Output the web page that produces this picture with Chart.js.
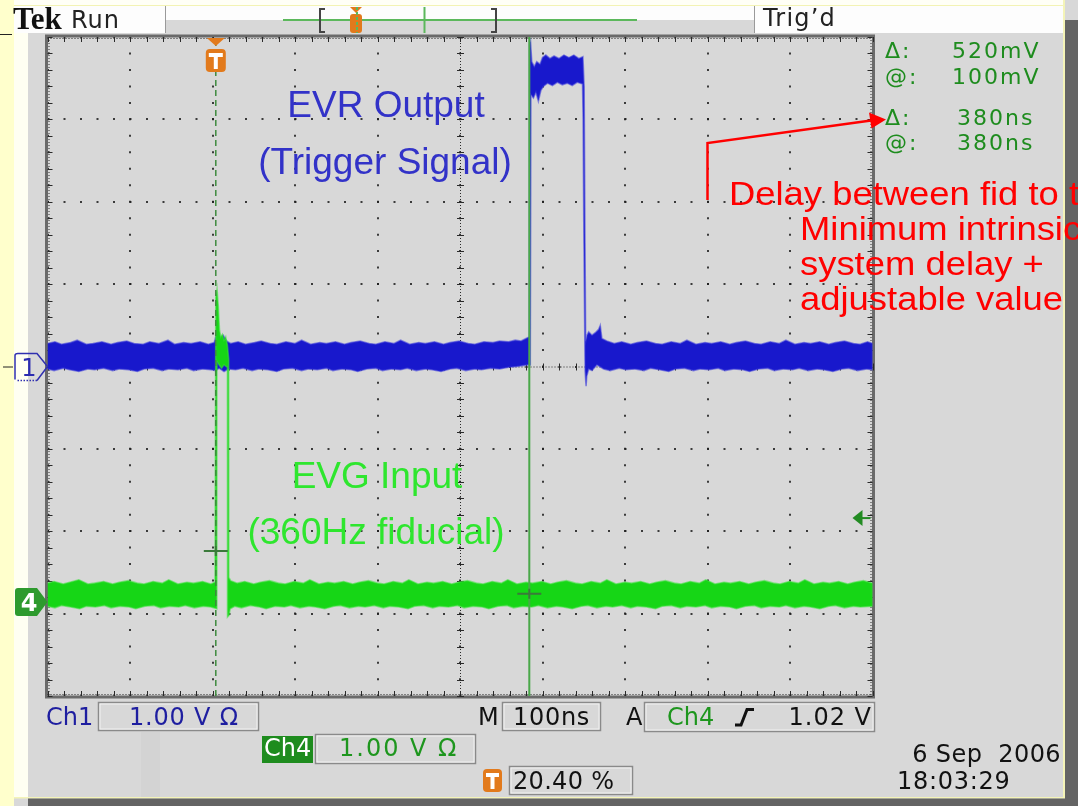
<!DOCTYPE html>
<html>
<head>
<meta charset="utf-8">
<title>EVR Output vs EVG Input</title>
<script src="https://cdn.jsdelivr.net/npm/chart.js@4.4.1/dist/chart.umd.min.js"></script>
<style>
  html, body { margin: 0; padding: 0; background: #d8d8d8; }
  canvas { display: block; }
</style>
</head>
<body>
<canvas id="scope" width="1078" height="806"></canvas>
<script>
// ===== DATA =====
// time divisions in ns (100 ns/div, trigger at 20.40 % of the record)
const xDivs = [-204, -104, -4, 96, 196, 296, 396, 496, 596, 696, 796];
// vertical divisions (1.00 V/div)
const yDivs = [-4, -3, -2, -1, 0, 1, 2, 3, 4];

// Ch1 (EVR output) noise envelope, [ns, V]
const ch1Upper = [
  [-204,0.28],[-195,0.30],[-187,0.27],[-176,0.29],[-168,0.32],[-157,0.27],[-149,0.28],[-138,0.30],
  [-127,0.27],[-119,0.29],[-108,0.31],[-99,0.28],[-88,0.27],[-80,0.30],[-69,0.28],[-58,0.32],
  [-50,0.27],[-39,0.29],[-30,0.28],[-19,0.30],[-9,0.27],[-2,0.29],[0,0.36],[2,0.42],[5,0.34],
  [9,0.38],[13,0.31],[18,0.28],[27,0.30],[36,0.27],[47,0.29],[55,0.31],[66,0.28],[74,0.27],
  [85,0.30],[96,0.28],[104,0.32],[115,0.27],[126,0.29],[134,0.28],[145,0.30],[156,0.27],
  [164,0.29],[175,0.31],[186,0.28],[194,0.27],[205,0.30],[216,0.28],[224,0.32],[235,0.27],
  [246,0.29],[254,0.28],[265,0.30],[276,0.27],[284,0.29],[295,0.31],[306,0.28],[314,0.27],
  [325,0.30],[336,0.29],[344,0.31],[355,0.30],[363,0.32],[370,0.31],[376,0.34],[380,0.36],
  [380.4,3.92],[381.5,3.95],[383,3.70],[386,3.64],[389,3.70],[393,3.67],[396,3.75],[400,3.78],
  [405,3.74],[410,3.77],[416,3.74],[422,3.78],[428,3.75],[434,3.78],[440,3.74],[445,3.76],
  [446.5,3.4],[447.5,1.6],[448.3,0.3],[450,0.38],[452,0.42],[456,0.38],[460,0.41],[464,0.45],
  [466,0.50],[468,0.34],[474,0.31],[483,0.28],[492,0.30],[503,0.27],[511,0.29],[522,0.31],
  [533,0.28],[541,0.27],[552,0.30],[563,0.28],[571,0.32],[582,0.27],[593,0.29],[601,0.28],
  [612,0.30],[623,0.27],[631,0.29],[642,0.31],[653,0.28],[661,0.27],[672,0.30],[683,0.28],
  [691,0.32],[702,0.27],[713,0.29],[721,0.28],[732,0.30],[743,0.27],[751,0.29],[762,0.31],
  [773,0.28],[781,0.27],[790,0.30],[796,0.28]
];
const ch1Lower = [
  [-204,-0.03],[-196,-0.05],[-185,-0.02],[-177,-0.04],[-166,-0.06],[-155,-0.03],[-147,-0.04],
  [-136,-0.02],[-125,-0.05],[-117,-0.03],[-106,-0.04],[-95,-0.06],[-87,-0.03],[-76,-0.02],
  [-65,-0.05],[-57,-0.03],[-46,-0.04],[-35,-0.02],[-27,-0.05],[-16,-0.03],[-6,-0.04],[0,-0.05],
  [4,-0.02],[10,-0.06],[15,-0.03],[24,-0.04],[33,-0.02],[44,-0.05],[52,-0.03],[63,-0.04],
  [74,-0.06],[82,-0.03],[93,-0.02],[104,-0.05],[112,-0.03],[123,-0.04],[134,-0.02],[142,-0.05],
  [153,-0.03],[164,-0.04],[172,-0.06],[183,-0.03],[194,-0.02],[202,-0.05],[213,-0.03],
  [224,-0.04],[232,-0.02],[243,-0.05],[254,-0.03],[262,-0.04],[273,-0.06],[284,-0.03],
  [292,-0.02],[303,-0.05],[314,-0.03],[322,-0.04],[333,-0.02],[344,-0.03],[355,-0.01],
  [365,0.0],[378,0.02],[381.2,0.02],[382,3.30],[385,3.26],[388,3.33],[391,3.22],[394,3.35],
  [397,3.40],[402,3.44],[408,3.41],[414,3.45],[420,3.42],[426,3.44],[432,3.41],[438,3.45],
  [444.5,3.43],[445.2,3.0],[446.2,1.5],[447.6,-0.05],[448.8,-0.24],[449.6,-0.12],[452,-0.03],
  [456,-0.05],[462,0.02],[470,-0.03],[478,-0.05],[489,-0.02],[497,-0.04],[508,-0.03],
  [519,-0.05],[527,-0.02],[538,-0.04],[549,-0.06],[557,-0.03],[568,-0.02],[579,-0.05],
  [587,-0.03],[598,-0.04],[609,-0.02],[617,-0.05],[628,-0.03],[639,-0.04],[647,-0.06],
  [658,-0.03],[669,-0.02],[677,-0.05],[688,-0.03],[699,-0.04],[707,-0.02],[718,-0.05],
  [729,-0.03],[737,-0.04],[748,-0.06],[759,-0.03],[767,-0.02],[778,-0.05],[789,-0.03],[796,-0.04]
];

// Ch4 (EVG input, 360 Hz fiducial) envelope, [ns, V] relative to its own ground
const ch4Upper = [
  [-204,0.23],[-196,0.25],[-185,0.22],[-177,0.24],[-166,0.27],[-155,0.22],[-147,0.23],
  [-136,0.25],[-125,0.22],[-117,0.24],[-106,0.26],[-95,0.23],[-87,0.22],[-76,0.25],[-65,0.23],
  [-57,0.27],[-46,0.22],[-35,0.24],[-27,0.23],[-16,0.25],[-6,0.22],[-1,0.24],[0,3.70],
  [1.5,3.80],[3,3.60],[4.5,3.30],[6,3.22],[8,3.25],[10,3.18],[12,3.22],[14,3.12],[15.6,2.95],
  [15.8,0.3],[18,0.26],[26,0.23],[35,0.25],[46,0.22],[54,0.24],[65,0.26],[76,0.23],[84,0.22],
  [95,0.25],[106,0.23],[114,0.27],[125,0.22],[136,0.24],[144,0.23],[155,0.25],[166,0.22],
  [174,0.24],[185,0.26],[196,0.23],[204,0.22],[215,0.25],[226,0.23],[234,0.27],[245,0.22],
  [256,0.24],[264,0.23],[275,0.25],[286,0.22],[294,0.24],[305,0.26],[316,0.23],[324,0.22],
  [335,0.25],[346,0.23],[354,0.27],[365,0.22],[376,0.24],[384,0.23],[395,0.25],[406,0.22],
  [414,0.24],[425,0.26],[436,0.23],[444,0.22],[455,0.25],[466,0.23],[474,0.27],[485,0.22],
  [496,0.24],[504,0.23],[515,0.25],[526,0.22],[534,0.24],[545,0.26],[556,0.23],[564,0.22],
  [575,0.25],[586,0.23],[594,0.27],[605,0.22],[616,0.24],[624,0.23],[635,0.25],[646,0.22],
  [654,0.24],[665,0.26],[676,0.23],[684,0.22],[695,0.25],[706,0.23],[714,0.27],[725,0.22],
  [736,0.24],[744,0.23],[755,0.25],[766,0.22],[774,0.24],[785,0.26],[796,0.23]
];
const ch4Lower = [
  [-204,-0.05],[-195,-0.07],[-187,-0.04],[-176,-0.06],[-165,-0.08],[-157,-0.05],[-146,-0.06],
  [-135,-0.04],[-127,-0.07],[-116,-0.05],[-105,-0.06],[-97,-0.08],[-86,-0.05],[-75,-0.04],
  [-67,-0.07],[-56,-0.05],[-45,-0.06],[-37,-0.04],[-26,-0.07],[-15,-0.05],[-6,-0.06],[1.3,-0.08],
  [1.4,2.92],[4,2.88],[7,2.84],[10,2.88],[14.1,2.85],[14.2,-0.18],[16,-0.16],[17.5,-0.08],
  [23,-0.05],[31,-0.07],[42,-0.04],[53,-0.06],[61,-0.08],[72,-0.05],[83,-0.06],[91,-0.04],
  [102,-0.07],[113,-0.05],[121,-0.06],[132,-0.08],[143,-0.05],[151,-0.04],[162,-0.07],
  [173,-0.05],[181,-0.06],[192,-0.04],[203,-0.07],[211,-0.05],[222,-0.06],[233,-0.08],
  [241,-0.05],[252,-0.04],[263,-0.07],[271,-0.05],[282,-0.06],[293,-0.04],[301,-0.07],
  [312,-0.05],[323,-0.06],[331,-0.08],[342,-0.05],[353,-0.04],[361,-0.07],[372,-0.05],
  [383,-0.06],[391,-0.04],[402,-0.07],[413,-0.05],[421,-0.06],[432,-0.08],[443,-0.05],
  [451,-0.04],[462,-0.07],[473,-0.05],[481,-0.06],[492,-0.04],[503,-0.07],[511,-0.05],
  [522,-0.06],[533,-0.08],[541,-0.05],[552,-0.04],[563,-0.07],[571,-0.05],[582,-0.06],
  [593,-0.04],[601,-0.07],[612,-0.05],[623,-0.06],[631,-0.08],[642,-0.05],[653,-0.04],
  [661,-0.07],[672,-0.05],[683,-0.06],[691,-0.04],[702,-0.07],[713,-0.05],[721,-0.06],
  [732,-0.08],[743,-0.05],[751,-0.04],[762,-0.07],[773,-0.05],[781,-0.06],[796,-0.05]
];

const ch4Offset = -2.86;           // Ch4 ground position (div)
const cursorTimes = [0, 380];      // ns
const cursorLevels = [0.62, 0.10]; // V on Ch4
const triggerLevel = 1.02;         // V on Ch4

// ===== HELPERS =====
function bandShape(upper, lower, offset) {
  return upper.concat(lower.slice().reverse()).map(p => ({ x: p[0], y: p[1] + offset }));
}

function label(ctx, str, x, y, font, color, align, spacing, sx) {
  ctx.save();
  ctx.font = font;
  ctx.fillStyle = color;
  ctx.textAlign = align || 'left';
  ctx.textBaseline = 'alphabetic';
  ctx.letterSpacing = spacing || '0px';
  ctx.translate(x, y);
  if (sx) ctx.scale(sx, 1);
  ctx.fillText(str, 0, 0);
  ctx.restore();
}

function box(ctx, x, y, w, h) {
  ctx.strokeStyle = '#8a8a8a';
  ctx.lineWidth = 1.5;
  ctx.strokeRect(x, y, w, h);
  ctx.strokeStyle = '#f2f2f2';
  ctx.lineWidth = 1;
  ctx.strokeRect(x + 1.5, y + 1.5, w - 3, h - 3);
}

function tIcon(ctx, x, y, w, h) {
  ctx.fillStyle = '#e27a1c';
  ctx.beginPath();
  ctx.roundRect(x, y, w, h, 4);
  ctx.fill();
  ctx.fillStyle = '#ffffff';
  ctx.fillRect(x + 3, y + 4, w - 6, 4);
  ctx.fillRect(x + w / 2 - 2, y + 4, 4, h - 7);
}

const ST = '24px "DejaVu Sans"';

// ===== PLUGIN: scope screen furniture =====
const scopeScreen = {
  id: 'scopeScreen',
  beforeDraw(chart) {
    const ctx = chart.ctx;
    ctx.save();
    ctx.fillStyle = '#d8d8d8';
    ctx.fillRect(0, 0, 1078, 806);
    ctx.fillStyle = '#ffffcc';
    ctx.fillRect(0, 0, 14, 806);
    ctx.fillStyle = '#fffff2';
    ctx.fillRect(14, 5, 14, 792);
    ctx.fillStyle = '#fffff6';
    ctx.fillRect(14, 0, 1050, 5);
    ctx.fillStyle = '#f3f3b4';
    ctx.fillRect(14, 5, 1050, 1);
    ctx.fillStyle = '#fdfdfd';
    ctx.fillRect(28, 6, 1035, 14);
    ctx.fillRect(14, 6, 151, 27);
    ctx.fillRect(755, 6, 308, 27);
    ctx.fillStyle = '#f4f4b8';
    ctx.fillRect(1063, 0, 2, 798);
    ctx.fillRect(14, 797, 1051, 1.5);
    ctx.fillStyle = '#646464';
    ctx.fillRect(1065, 20, 13, 786);
    ctx.fillRect(28, 798.5, 1050, 8);
    ctx.fillStyle = '#d3d3d3';
    ctx.fillRect(141, 732, 19, 65);
    // separators
    ctx.strokeStyle = '#9a9a9a';
    ctx.lineWidth = 1;
    ctx.beginPath();
    ctx.moveTo(165.5, 6); ctx.lineTo(165.5, 33);
    ctx.moveTo(754.5, 6); ctx.lineTo(754.5, 33);
    ctx.stroke();
    ctx.strokeStyle = '#222';
    ctx.beginPath();
    ctx.moveTo(0, 34.5); ctx.lineTo(12, 34.5);
    ctx.stroke();

    // header text
    label(ctx, 'Tek', 13, 29, 'bold 31px "Liberation Serif"', '#111');
    label(ctx, 'Run', 71, 27.5, ST, '#222', 'left', '1px');
    label(ctx, 'Trig\u2019d', 763, 26, ST, '#222', 'left', '1.2px');

    // record view
    ctx.strokeStyle = '#5cb85c';
    ctx.lineWidth = 2;
    ctx.beginPath();
    ctx.moveTo(283, 20); ctx.lineTo(637, 20);
    ctx.moveTo(424.5, 7); ctx.lineTo(424.5, 33);
    ctx.stroke();
    ctx.strokeStyle = '#444';
    ctx.beginPath();
    ctx.moveTo(325, 9); ctx.lineTo(320, 9); ctx.lineTo(320, 32); ctx.lineTo(325, 32);
    ctx.moveTo(491, 9); ctx.lineTo(496, 9); ctx.lineTo(496, 32); ctx.lineTo(491, 32);
    ctx.stroke();
    ctx.fillStyle = '#e27a1c';
    ctx.beginPath();
    ctx.moveTo(350, 7); ctx.lineTo(362, 7); ctx.lineTo(356, 13); ctx.closePath();
    ctx.fill();
    ctx.beginPath();
    ctx.roundRect(350, 14, 12, 19, 3);
    ctx.fill();
    ctx.strokeStyle = '#5cb85c';
    ctx.setLineDash([3, 2]);
    ctx.beginPath();
    ctx.moveTo(357, 7); ctx.lineTo(357, 33);
    ctx.stroke();
    ctx.setLineDash([]);
    ctx.restore();
  },

  beforeDatasetsDraw(chart) {
    const ctx = chart.ctx;
    const a = chart.chartArea;
    const xs = chart.scales.x, ys = chart.scales.y;
    ctx.save();
    // frame
    ctx.strokeStyle = '#6a6a6a';
    ctx.lineWidth = 3;
    ctx.strokeRect(a.left - 1, a.top - 1, a.right - a.left + 2, a.bottom - a.top + 2);

    const cx = xs.getPixelForValue(xDivs[5]);
    const cy = ys.getPixelForValue(0);
    ctx.strokeStyle = '#2a2a2a';
    ctx.lineWidth = 1;
    // fine dotted centre lines and inner frame lines
    ctx.setLineDash([1, 2]);
    ctx.beginPath();
    ctx.moveTo(a.left, cy + 0.5); ctx.lineTo(a.right, cy + 0.5);
    ctx.moveTo(cx + 0.5, a.top); ctx.lineTo(cx + 0.5, a.bottom);
    ctx.moveTo(a.left, a.top + 1.5); ctx.lineTo(a.right, a.top + 1.5);
    ctx.moveTo(a.left, a.bottom - 1.5); ctx.lineTo(a.right, a.bottom - 1.5);
    ctx.moveTo(a.left + 1.5, a.top); ctx.lineTo(a.left + 1.5, a.bottom);
    ctx.moveTo(a.right - 1.5, a.top); ctx.lineTo(a.right - 1.5, a.bottom);
    ctx.stroke();
    ctx.setLineDash([]);
    // minor ticks, 5 per division
    ctx.beginPath();
    for (let k = 0; k <= 50; k++) {
      const px = Math.round(xs.getPixelForValue(xDivs[0] + k * 20)) + 0.5;
      ctx.moveTo(px, a.top); ctx.lineTo(px, a.top + 5);
      ctx.moveTo(px, a.bottom); ctx.lineTo(px, a.bottom - 5);
      ctx.moveTo(px, cy - 3); ctx.lineTo(px, cy + 4);
    }
    for (let k = 0; k <= 40; k++) {
      const py = Math.round(ys.getPixelForValue(yDivs[0] + k * 0.2)) + 0.5;
      ctx.moveTo(a.left, py); ctx.lineTo(a.left + 5, py);
      ctx.moveTo(a.right, py); ctx.lineTo(a.right - 5, py);
      ctx.moveTo(cx - 3, py); ctx.lineTo(cx + 4, py);
    }
    ctx.stroke();
    ctx.restore();
  },

  afterDatasetsDraw(chart) {
    const ctx = chart.ctx;
    const a = chart.chartArea;
    const xs = chart.scales.x, ys = chart.scales.y;
    ctx.save();

    // cursor crosshairs on Ch4
    ctx.strokeStyle = '#3b7a3b';
    ctx.lineWidth = 2;
    ctx.beginPath();
    for (let i = 0; i < cursorTimes.length; i++) {
      const px = xs.getPixelForValue(cursorTimes[i]);
      const py = ys.getPixelForValue(cursorLevels[i] + ch4Offset);
      ctx.moveTo(px - 12, py); ctx.lineTo(px + 12, py);
      ctx.moveTo(px, py - 5); ctx.lineTo(px, py + 5);
    }
    ctx.stroke();

    // trigger position marker (top)
    const tx = xs.getPixelForValue(0);
    ctx.fillStyle = '#e27a1c';
    ctx.beginPath();
    ctx.moveTo(tx - 9, a.top + 1); ctx.lineTo(tx + 9, a.top + 1); ctx.lineTo(tx, a.top + 9);
    ctx.closePath();
    ctx.fill();
    tIcon(ctx, tx - 10, a.top + 12, 20, 23);

    // trigger level marker (right)
    const ty = ys.getPixelForValue(triggerLevel + ch4Offset);
    ctx.fillStyle = '#228b22';
    ctx.beginPath();
    ctx.moveTo(a.right - 20, ty); ctx.lineTo(a.right - 10, ty - 8); ctx.lineTo(a.right - 10, ty + 8);
    ctx.closePath();
    ctx.fill();
    ctx.strokeStyle = '#228b22';
    ctx.beginPath();
    ctx.moveTo(a.right - 11, ty); ctx.lineTo(a.right - 2, ty);
    ctx.stroke();

    // channel ground markers
    const g1 = ys.getPixelForValue(0);
    ctx.strokeStyle = '#222';
    ctx.lineWidth = 1;
    ctx.beginPath();
    ctx.moveTo(3, g1 + 0.5); ctx.lineTo(13, g1 + 0.5);
    ctx.stroke();
    ctx.strokeStyle = '#3030b0';
    ctx.lineWidth = 1.5;
    ctx.beginPath();
    ctx.moveTo(15, g1 + 13); ctx.lineTo(15, g1 - 11); ctx.quadraticCurveTo(15, g1 - 13, 18, g1 - 13);
    ctx.lineTo(37, g1 - 13); ctx.lineTo(a.left, g1); ctx.lineTo(37, g1 + 14);
    ctx.stroke();
    ctx.setLineDash([1.5, 1.5]);
    ctx.beginPath();
    ctx.moveTo(37, g1 + 14); ctx.lineTo(16, g1 + 14);
    ctx.stroke();
    ctx.setLineDash([]);
    label(ctx, '1', 29, g1 + 9, '24px "DejaVu Sans"', '#2b2bb0', 'center');

    const g4 = ys.getPixelForValue(ch4Offset);
    ctx.fillStyle = '#2e9a2e';
    ctx.beginPath();
    ctx.moveTo(15, g4 - 11); ctx.quadraticCurveTo(15, g4 - 14, 18, g4 - 14);
    ctx.lineTo(37, g4 - 14); ctx.lineTo(a.left, g4); ctx.lineTo(37, g4 + 14);
    ctx.lineTo(18, g4 + 14); ctx.quadraticCurveTo(15, g4 + 14, 15, g4 + 11);
    ctx.closePath();
    ctx.fill();
    label(ctx, '4', 29, g4 + 9, 'bold 24px "DejaVu Sans"', '#ffffff', 'center');

    // annotations
    const AF = '37px "Liberation Sans", Arial, sans-serif';
    label(ctx, 'EVR Output', 386, 117, AF, '#3232c8', 'center');
    label(ctx, '(Trigger Signal)', 385, 174, AF, '#3232c8', 'center');
    label(ctx, 'EVG Input', 377, 488, AF, '#2ee62e', 'center');
    label(ctx, '(360Hz fiducial)', 376, 544, AF, '#2ee62e', 'center');

    ctx.restore();
  },

  afterDraw(chart) {
    const ctx = chart.ctx;
    ctx.save();
    // cursor readout
    const RF = '22px "DejaVu Sans"';
    const rc = '#1e8c1e';
    label(ctx, '\u0394:', 885, 58, RF, rc, 'left', '2px');
    label(ctx, '520mV', 952, 58, RF, rc, 'left', '2px');
    label(ctx, '@:', 885, 83.5, RF, rc, 'left', '2px');
    label(ctx, '100mV', 952, 83.5, RF, rc, 'left', '2px');
    label(ctx, '\u0394:', 885, 125, RF, rc, 'left', '2px');
    label(ctx, '380ns', 957, 125, RF, rc, 'left', '2px');
    label(ctx, '@:', 885, 150, RF, rc, 'left', '2px');
    label(ctx, '380ns', 957, 150, RF, rc, 'left', '2px');

    // red delay annotation with arrow
    ctx.strokeStyle = '#ff0000';
    ctx.lineWidth = 2.5;
    ctx.beginPath();
    ctx.moveTo(707.5, 200); ctx.lineTo(707.5, 143); ctx.lineTo(871, 120.5);
    ctx.stroke();
    ctx.fillStyle = '#ff0000';
    ctx.beginPath();
    ctx.moveTo(886, 119.5); ctx.lineTo(869, 112.5); ctx.lineTo(871.5, 128.5);
    ctx.closePath();
    ctx.fill();
    const DF = '32.5px "Liberation Sans", Arial, sans-serif';
    label(ctx, 'Delay between fid to trigger', 729, 205, DF, '#ff0000', 'left', '0px', 1.12);
    label(ctx, 'Minimum intrinsic', 800, 240, DF, '#ff0000', 'left', '0px', 1.12);
    label(ctx, 'system delay +', 800, 275, DF, '#ff0000', 'left', '0px', 1.12);
    label(ctx, 'adjustable value', 800, 310, DF, '#ff0000', 'left', '0px', 1.12);

    // status bar
    label(ctx, 'Ch1', 46, 724.5, ST, '#1e1ea0');
    box(ctx, 98.5, 702.5, 160, 28);
    label(ctx, '1.00 V \u03a9', 129, 724.5, ST, '#1e1ea0', 'left', '0.8px');
    label(ctx, 'M', 478, 724.5, ST, '#111');
    box(ctx, 502.5, 702.5, 98, 28);
    label(ctx, '100ns', 513, 724.5, ST, '#111', 'left', '0.7px');
    label(ctx, 'A', 626, 724.5, ST, '#111');
    box(ctx, 644.5, 702.5, 230, 29);
    label(ctx, 'Ch4', 667, 724.5, ST, '#1e961e');
    ctx.strokeStyle = '#111';
    ctx.lineWidth = 3;
    ctx.beginPath();
    ctx.moveTo(735, 725); ctx.lineTo(741, 725); ctx.lineTo(747, 709.5); ctx.lineTo(754, 709.5);
    ctx.stroke();
    label(ctx, '1.02 V', 872, 724.5, ST, '#111', 'right', '1px');

    ctx.fillStyle = '#1e8c1e';
    ctx.fillRect(262, 736, 51, 27);
    label(ctx, 'Ch4', 264, 756, ST, '#ffffff');
    box(ctx, 315.5, 734.5, 160, 29);
    label(ctx, '1.00 V \u03a9', 339, 756, ST, '#1e961e', 'left', '2px');

    tIcon(ctx, 483, 769, 19, 23);
    box(ctx, 509.5, 766.5, 123, 28);
    label(ctx, '20.40 %', 513, 789, ST, '#111', 'left', '0.3px');

    label(ctx, '6 Sep  2006', 1061, 762, ST, '#111', 'right', '0.4px');
    label(ctx, '18:03:29', 897, 789, ST, '#111', 'left', '0.7px');
    ctx.restore();
  }
};

// ===== CHART =====
const ctx = document.getElementById('scope').getContext('2d');

const scopeChart = new Chart(ctx, {
  type: 'line',
  data: {
    datasets: [
      {
        label: 'Cursor 2',
        data: [{ x: cursorTimes[1], y: yDivs[0] }, { x: cursorTimes[1], y: yDivs[8] }],
        borderColor: '#49a849',
        borderWidth: 2,
        pointRadius: 0,
        fill: false
      },
      {
        label: 'Cursor 1 / trigger',
        data: [{ x: cursorTimes[0], y: yDivs[0] }, { x: cursorTimes[0], y: yDivs[8] }],
        borderColor: '#3d8a3d',
        borderWidth: 1.5,
        borderDash: [6, 4],
        pointRadius: 0,
        fill: false
      },
      {
        label: 'Ch4',
        data: bandShape(ch4Upper, ch4Lower, ch4Offset),
        backgroundColor: '#16d616',
        borderColor: 'rgba(60, 225, 60, 0.55)',
        borderWidth: 1.6,
        borderDash: [5000, 0],
        pointRadius: 0,
        fill: 'shape'
      },
      {
        label: 'Ch1',
        data: bandShape(ch1Upper, ch1Lower, 0),
        backgroundColor: '#1818cc',
        borderColor: 'rgba(60, 60, 220, 0.55)',
        borderWidth: 1.6,
        borderDash: [5000, 0],
        pointRadius: 0,
        fill: 'shape'
      }
    ]
  },
  options: {
    responsive: false,
    devicePixelRatio: 1,
    animation: false,
    events: [],
    layout: { padding: { left: 47.5, right: 205.5, top: 37, bottom: 110 } },
    plugins: {
      legend: { display: false },
      tooltip: { enabled: false }
    },
    scales: {
      x: {
        type: 'linear',
        min: xDivs[0],
        max: xDivs[xDivs.length - 1],
        afterBuildTicks: (scale) => { scale.ticks = xDivs.map(v => ({ value: v })); },
        ticks: { display: false },
        grid: { color: 'rgba(30,30,30,0.85)', lineWidth: 2, drawTicks: false },
        border: { display: false, dash: [2, 14.47], dashOffset: 1 }
      },
      y: {
        type: 'linear',
        min: yDivs[0],
        max: yDivs[yDivs.length - 1],
        afterBuildTicks: (scale) => { scale.ticks = yDivs.map(v => ({ value: v })); },
        ticks: { display: false },
        grid: { color: 'rgba(30,30,30,0.85)', lineWidth: 2, drawTicks: false },
        border: { display: false, dash: [2, 14.5], dashOffset: 1 }
      }
    }
  },
  plugins: [scopeScreen]
});
</script>
</body>
</html>
